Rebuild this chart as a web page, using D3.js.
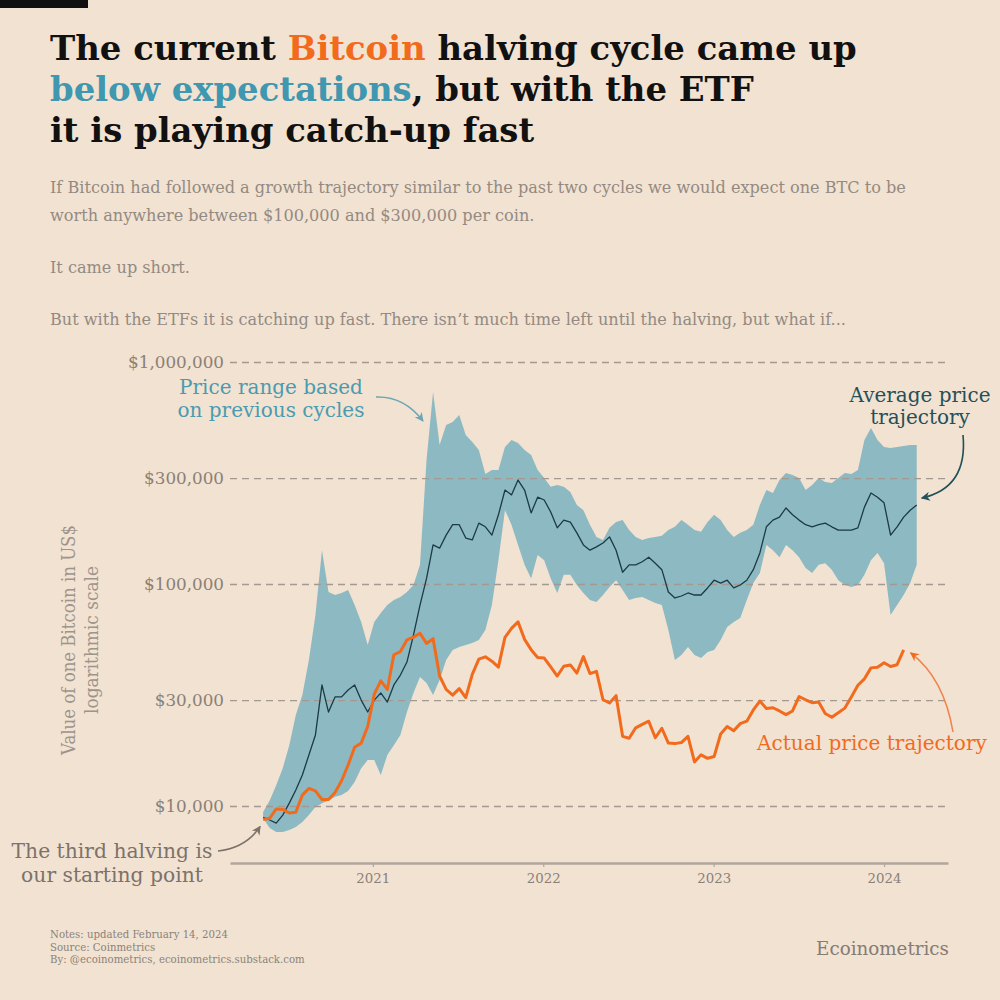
<!DOCTYPE html>
<html><head><meta charset="utf-8">
<script src="https://cdn.jsdelivr.net/npm/d3@7"></script>
<style>body{margin:0;background:#f2e2d1}svg{display:block}text{white-space:pre}</style>
</head><body>
<svg id="c" width="1000" height="1000"></svg>
<script>
// ---- data ----
// days since the third halving (2020-05-11)
const dayOffsets = [0,14,28,42,56,70,84,98,112,126,140,154,168,182,196,210,224,238,252,266,280,294,308,322,336,350,364,378,392,406,420,434,448,462,476,490,504,518,532,546,560,574,588,602,616,630,644,658,672,686,700,714,728,742,756,770,784,798,812,826,840,854,868,882,896,910,924,938,952,966,980,994,1008,1022,1036,1050,1064,1078,1092,1106,1120,1134,1148,1162,1176,1190,1204,1218,1232,1246,1260,1274,1288,1302,1316,1330,1344,1358,1372,1386,1400];
const upperBand = [9400,10600,12400,14800,18800,25700,31600,45500,72500,142000,
92000,89200,91100,94000,80400,67400,53100,67400,74000,80400,
84700,87400,92000,99000,122000,362000,733000,423000,520000,537000,
577000,469000,436000,401000,313000,326000,326000,414000,445000,432000,
401000,381000,326000,300000,274000,279000,274000,260000,227000,215000,
185000,163000,158000,179000,190000,194000,175000,163000,158000,161000,
163000,165000,175000,181000,194000,185000,175000,172000,190000,205000,
194000,175000,163000,170000,175000,185000,227000,265000,257000,294000,
316000,310000,300000,265000,279000,300000,288000,285000,300000,316000,
313000,326000,445000,504000,445000,414000,410000,414000,418000,423000,
423000];
const lowerBand = [8800,7960,7630,7630,7800,8040,8470,9100,9900,10300,
10600,11000,11200,11680,12830,14800,16100,16100,13800,16970,
18800,20900,26500,32300,38100,35800,31600,36900,45500,50400,
52000,53100,54200,55900,62100,80400,128000,215000,185000,150000,
122000,106000,135000,128000,106000,91100,110000,110000,99000,91100,
84700,83000,89200,97000,104000,94000,84700,86500,87400,84700,
82100,80400,62100,45500,47900,52000,47900,46400,49400,50400,
55900,64000,67400,70300,84700,101000,112000,150000,142000,132000,
150000,142000,132000,118000,112000,122000,124000,116000,104000,99000,
97000,99000,110000,128000,138000,124000,72500,80400,89200,101000,
122000];
const averagePrice = [8900,8650,8380,9100,10300,11800,13800,16970,20900,35100,
26500,31000,31000,33300,35100,30000,26500,30000,32300,29400,
35100,38900,44500,58900,80400,106000,150000,145000,166000,185000,
185000,161000,158000,188000,181000,166000,205000,265000,252000,294000,
265000,209000,246000,239000,211000,179000,194000,190000,170000,150000,
142000,147000,153000,163000,142000,113000,122000,122000,126000,132000,
124000,116000,92000,86500,88300,91100,89200,89200,96000,104000,
101000,104000,96000,99000,104000,116000,138000,181000,194000,200000,
220000,205000,194000,185000,181000,185000,188000,181000,175000,175000,
175000,179000,222000,257000,246000,232000,166000,181000,200000,215000,
227000];
const actualPrice = [8700,8800,9700,9650,9300,9380,11200,12000,11700,10700,
10700,11500,13000,15300,18400,19200,22800,31900,36600,33500,
48000,49600,56000,57600,60000,54000,56700,38500,33500,31600,
33800,30800,39200,45900,47000,44900,42200,57500,63100,67500,
56300,50600,46700,46400,42300,38500,42600,43200,39700,47100,
39500,40400,30100,29100,31400,20600,20200,22500,23300,24100,
20300,22400,19200,19100,19300,20600,15800,17000,16400,16700,
21100,22800,21800,23500,24100,27100,29700,27500,27700,26800,
25800,26800,31100,30100,29200,29400,26100,25100,26300,27600,
31000,35000,37400,41900,42200,44200,42500,43300,50500];
const yTickValues = [10000, 30000, 100000, 300000, 1000000];
const yTickLabels = ["$10,000", "$30,000", "$100,000", "$300,000", "$1,000,000"];
const xTickYears = [2021, 2022, 2023, 2024];
const xTickLabels = ["2021", "2022", "2023", "2024"];

// ---- setup ----
const BG = "#f2e2d1", ORANGE = "#f26b1d", TEAL = "#3f97b0", BAND = "#8db9c2",
      AVG = "#1c3a44", GRID = "#a39990";
const FONT = "DejaVu Serif";
const svg = d3.select("#c");
svg.append("rect").attr("width",1000).attr("height",1000).attr("fill",BG);
svg.append("rect").attr("x",0).attr("y",0).attr("width",88).attr("height",8).attr("fill","#111");

const halving = new Date(2020, 4, 11);
const dateOf = d => d3.timeDay.offset(halving, d);
const x = d3.scaleTime().domain([new Date(2020,2,1), new Date(2024,4,17)]).range([230, 948]);
const y = d3.scaleLog().domain([1e4, 1e6]).range([806, 362]);

function fit(sel, target) {
  const w = sel.node().getComputedTextLength();
  const fs = parseFloat(sel.attr("font-size"));
  const nfs = fs * target / w;
  sel.attr("font-size", nfs);
  return nfs;
}
function lines(opts) {
  const g = svg.append("g");
  const ts = opts.lines.map((l, i) => g.append("text")
    .attr("x", opts.x).attr("y", opts.y + i * opts.lh)
    .attr("font-family", FONT).attr("font-size", 20)
    .attr("font-weight", opts.weight || "normal")
    .attr("fill", opts.fill).attr("text-anchor", opts.anchor || "start")
    .text(l));
  const fs = fit(ts[opts.fitIndex || 0], opts.width);
  ts.forEach(t => t.attr("font-size", fs));
  return g;
}

// ---- title ----
const titleParts = [
  [["The current ", "#111"], ["Bitcoin", ORANGE], [" halving cycle came up", "#111"]],
  [["below expectations", TEAL], [", but with the ETF", "#111"]],
  [["it is playing catch-up fast", "#111"]]
];
const titleNodes = titleParts.map((parts, i) => {
  const t = svg.append("text").attr("x", 50).attr("y", 60 + i * 41)
    .attr("font-family", FONT).attr("font-weight", "bold").attr("font-size", 32);
  parts.forEach(p => t.append("tspan").attr("fill", p[1]).text(p[0]));
  return t;
});
const tfs = fit(titleNodes[0], 807);
titleNodes.forEach(t => t.attr("font-size", tfs));

// ---- subtitle ----
const sub = [
  ["If Bitcoin had followed a growth trajectory similar to the past two cycles we would expect one BTC to be", 193],
  ["worth anywhere between $100,000 and $300,000 per coin.", 221],
  ["It came up short.", 273],
  ["But with the ETFs it is catching up fast. There isn\u2019t much time left until the halving, but what if...", 325]
];
const subNodes = sub.map(s => svg.append("text").attr("x", 50).attr("y", s[1])
  .attr("font-family", FONT).attr("font-size", 15).attr("fill", "#938a83").text(s[0]));
const sfs = fit(subNodes[0], 856);
subNodes.forEach(t => t.attr("font-size", sfs));

// ---- band ----
const bandData = dayOffsets.map((d, i) => ({date: dateOf(d), lo: lowerBand[i], hi: upperBand[i], avg: averagePrice[i]}));
svg.append("path").datum(bandData)
  .attr("fill", BAND)
  .attr("d", d3.area().x(d => x(d.date)).y0(d => y(d.lo)).y1(d => y(d.hi)));

// ---- y grid & labels ----
const yAxis = svg.append("g").attr("transform", "translate(230,0)")
  .call(d3.axisLeft(y).tickValues(yTickValues).tickSize(-718).tickPadding(6)
    .tickFormat((d) => yTickLabels[yTickValues.indexOf(d)]));
yAxis.select(".domain").remove();
yAxis.selectAll(".tick line").attr("stroke", GRID).attr("stroke-width", 1.3).attr("stroke-dasharray", "7,5");
const yl = yAxis.selectAll(".tick text").attr("font-family", FONT).attr("fill", "#8a8078").attr("font-size", 15);
{
  const top = yAxis.selectAll(".tick text").filter(d => d === 1e6);
  const fs = fit(top, 96);
  yl.attr("font-size", fs);
}

// ---- lines ----
svg.append("path").datum(bandData)
  .attr("fill", "none").attr("stroke", AVG).attr("stroke-width", 1.3).attr("stroke-linejoin", "round")
  .attr("d", d3.line().x(d => x(d.date)).y(d => y(d.avg)));
const actualData = actualPrice.map((v, i) => ({date: dateOf(dayOffsets[i]), v}));
svg.append("path").datum(actualData)
  .attr("fill", "none").attr("stroke", ORANGE).attr("stroke-width", 3).attr("stroke-linejoin", "round")
  .attr("d", d3.line().x(d => x(d.date)).y(d => y(d.v)));

// ---- x axis ----
const xAxis = svg.append("g").attr("transform", "translate(0,863)")
  .call(d3.axisBottom(x).tickValues(xTickYears.map(yv => new Date(yv, 0, 1)))
    .tickSizeInner(4).tickSizeOuter(0).tickPadding(7)
    .tickFormat((d) => xTickLabels[xTickYears.indexOf(d.getFullYear())]));
xAxis.select(".domain").attr("stroke", "#b1a69c").attr("stroke-width", 2.5);
xAxis.selectAll(".tick line").attr("stroke", "#b1a69c").attr("stroke-width", 1.2);
const xl = xAxis.selectAll(".tick text").attr("font-family", FONT).attr("fill", "#8a8078").attr("font-size", 15);
{
  const f = xAxis.selectAll(".tick text").filter((d, i) => i === 0);
  const fs = fit(f, 34);
  xl.attr("font-size", fs);
}

// ---- y-axis title ----
{
  const g = svg.append("g").attr("transform", "translate(0,640) rotate(-90)");
  g.append("text").attr("x", 0).attr("y", 75).attr("text-anchor", "middle")
    .attr("font-family", FONT).attr("font-size", 18.5).attr("fill", "#9d948c")
    .attr("textLength", 230).attr("lengthAdjust", "spacingAndGlyphs").text("Value of one Bitcoin in US$");
  g.append("text").attr("x", 0).attr("y", 98).attr("text-anchor", "middle")
    .attr("font-family", FONT).attr("font-size", 18.5).attr("fill", "#9d948c")
    .attr("textLength", 148).attr("lengthAdjust", "spacingAndGlyphs").text("logarithmic scale");
}

// ---- arrows ----
const defs = svg.append("defs");
function marker(id, color) {
  defs.append("marker").attr("id", id).attr("viewBox", "0 0 10 10").attr("refX", 9).attr("refY", 5)
    .attr("markerWidth", 9).attr("markerHeight", 9).attr("markerUnits", "userSpaceOnUse").attr("orient", "auto")
    .append("path").attr("d", "M0,0 L10,5 L0,10 L3,5 Z").attr("fill", color);
}
marker("mTeal", "#6aa6b6"); marker("mAvg", "#24505a"); marker("mOr", ORANGE); marker("mGray", "#7b726b");
function arrow(x0, y0, cx, cy, x1, y1, color, m, w) {
  const p = d3.path(); p.moveTo(x0, y0); p.quadraticCurveTo(cx, cy, x1, y1);
  svg.append("path").attr("d", p.toString()).attr("fill", "none").attr("stroke", color)
    .attr("stroke-width", w || 1.6).attr("marker-end", `url(#${m})`);
}

// ---- annotations ----
lines({lines: ["Price range based", "on previous cycles"], x: 271, y: 394, lh: 23, fill: "#4a9bb0", anchor: "middle", width: 187, fitIndex: 1});
arrow(376, 397, 404, 396, 423, 421, "#6aa6b6", "mTeal", 1.5);

lines({lines: ["Average price", "trajectory"], x: 920, y: 402, lh: 22, fill: "#24505a", anchor: "middle", width: 141});
const last = bandData[bandData.length - 1];
arrow(963, 435, 968, 488, x(last.date) + 5, y(last.avg) - 7, "#24505a", "mAvg", 1.6);

lines({lines: ["Actual price trajectory"], x: 757, y: 750, lh: 22, fill: ORANGE, width: 230});
const lastA = actualData[actualData.length - 1];
arrow(953, 732, 944, 678, x(lastA.date) + 7, y(lastA.v) + 3, "#f0834a", "mOr", 1.5);

lines({lines: ["The third halving is", "our starting point"], x: 112, y: 858, lh: 24, fill: "#7b726b", anchor: "middle", width: 201});
arrow(218, 851, 246, 848, x(actualData[0].date) - 3, y(actualData[0].v) + 7, "#7b726b", "mGray", 1.6);

// ---- footer ----
lines({lines: ["Notes: updated February 14, 2024", "Source: Coinmetrics", "By: @ecoinometrics, ecoinometrics.substack.com"],
  x: 50, y: 938, lh: 12.5, fill: "#8a827b", width: 255, fitIndex: 2});
lines({lines: ["Ecoinometrics"], x: 949, y: 955, lh: 20, fill: "#857c75", anchor: "end", width: 133});
</script>
</body></html>
